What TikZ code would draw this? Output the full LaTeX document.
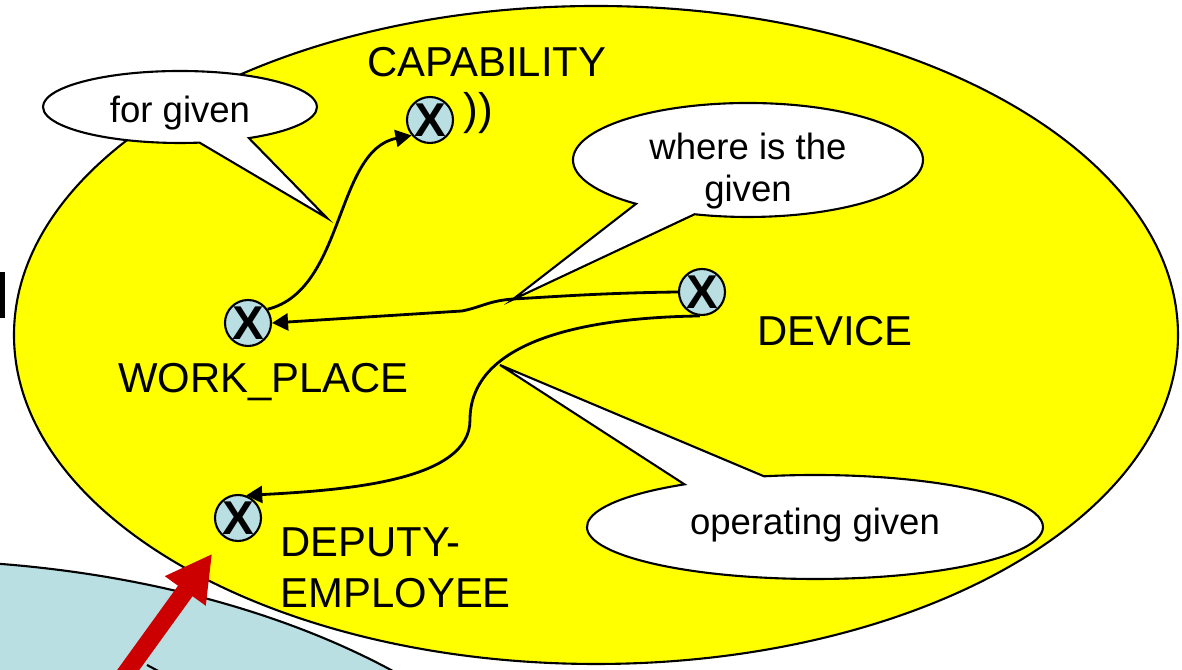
\documentclass[tikz,border=0pt]{standalone}
\usepackage{fontspec}
\setmainfont{Liberation Sans}
\usetikzlibrary{calc, shapes, shapes.callouts, arrows.meta, positioning}
\definecolor{hullyellow}{RGB}{255,255,0}
\definecolor{entblue}{RGB}{185,223,227}
\definecolor{linkred}{RGB}{204,0,0}

\begin{document}
\begin{tikzpicture}[
	entity/.style={circle, draw, fill=entblue, line width=0.6pt, minimum size=4.6mm, inner sep=0pt, font=\fontsize{13.5}{13.5}\selectfont\bfseries},
	lbl/.style={inner sep=0pt, font=\fontsize{11.9}{14.5}\selectfont},
	bubble/.style={ellipse callout, draw, fill=white, line width=0.6pt, inner sep=0pt, callout pointer arc=22, font=\fontsize{10.4}{12.2}\selectfont},
	link/.style={-{Triangle[length=1.6mm, width=1.7mm]}, line width=0.8pt}
]
	\clip (0,0) rectangle (11.82,6.70);
	\fill[white] (0,0) rectangle (11.82,6.70);
	\filldraw[fill=hullyellow, line width=0.6pt] (5.96,3.35) ellipse [x radius=5.82, y radius=3.29];
	\filldraw[fill=entblue, line width=0.6pt] (-1.00,-2.73) ellipse [x radius=7.00, y radius=3.83];
	\fill (0,3.52) rectangle (0.05,3.98);
	\draw[line width=0.6pt] (1.47,0.05) -- (1.60,-0.02);

	\node[entity] (cap) at (4.30,5.50) {X};
	\node[entity] (work) at (2.48,3.47) {X};
	\node[entity] (device) at (7.02,3.78) {X};
	\node[entity] (deputy) at (2.38,1.52) {X};

	\node[lbl, anchor=base] (caplbl) at ([xshift=5.7mm, yshift=4.3mm]cap) {CAPABILITY};
	\node[lbl] (capmark) at ([xshift=4.8mm, yshift=0.7mm]cap) {\fontsize{12.6}{14}\selectfont))};
	\node[lbl, anchor=base] (worklbl) at ([xshift=1.55mm, yshift=-7mm]work) {WORK\_PLACE};
	\node[lbl, anchor=base] (devicelbl) at ([xshift=13.3mm, yshift=-5.4mm]device) {DEVICE};
	\node[lbl, anchor=north west, align=left] (deputylbl) at ([xshift=4.2mm, yshift=-0.9mm]deputy) {DEPUTY-\\EMPLOYEE};

	\draw[link] (work.35) .. controls (3.45,3.80) and (3.35,5.20) .. (cap.220);
	\draw[link] (device.west) .. controls (6.00,3.77) and (5.50,3.73) .. (5.13,3.71) .. controls (4.88,3.69) and (4.82,3.63) .. (4.62,3.59) -- (work.east);
	\draw[link] (device.265) .. controls (5.60,3.52) and (4.70,3.20) .. (4.70,2.50) .. controls (4.70,1.90) and (3.50,1.80) .. (deputy.70);

	\node[bubble, minimum width=2.74cm, minimum height=0.72cm, callout absolute pointer={(3.27,4.52)}] (forgiven) at (1.80,5.63) {\raisebox{-1.55mm}[0pt][0pt]{for given}};
	\node[bubble, minimum width=3.50cm, minimum height=1.14cm, callout absolute pointer={(5.12,3.70)}] (wheregiven) at (7.48,5.10) {\raisebox{-4.2mm}[0pt][0pt]{\begin{tabular}[b]{@{}c@{}}where is the\\given\end{tabular}}};
	\node[bubble, minimum width=4.56cm, minimum height=1.04cm, callout absolute pointer={(5.00,3.05)}] (operating) at (8.15,1.43) {\raisebox{-0.8mm}[0pt][0pt]{operating given}};

	\coordinate (redstart) at (1.08,-0.28);
	\draw[linkred, line width=5.1pt, -{Triangle[length=4.6mm, width=4.7mm]}, shorten >=2mm] (redstart) -- (deputy);
\end{tikzpicture}
\end{document}
